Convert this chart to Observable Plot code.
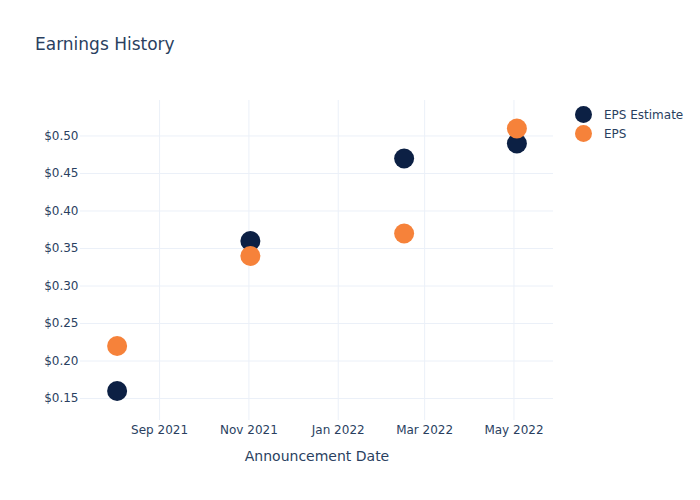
<!DOCTYPE html>
<html><head><meta charset="utf-8">
<script src="https://cdn.jsdelivr.net/npm/d3@7"></script>
<script src="https://cdn.jsdelivr.net/npm/@observablehq/plot@0.6"></script>
<style>
body{margin:0;background:#fff;font-family:"DejaVu Sans",sans-serif;}
#wrap{position:relative;width:700px;height:500px;}
#title{position:absolute;left:35px;top:34px;font-size:17px;color:#2a3f5f;white-space:nowrap;}
.leg{position:absolute;left:575px;font-size:12px;color:#2a3f5f;display:flex;align-items:center;white-space:nowrap;}
.leg span.sw{display:inline-block;width:17px;height:17px;border-radius:50%;margin-right:12px;}
</style></head>
<body>
<div id="wrap">
<div id="chart"></div>
<div id="title">Earnings History</div>
<div id="legend"></div>
</div>
<script>
const dates = ["2021-08-03", "2021-11-02", "2022-02-15", "2022-05-03"];
const epsEstimate = [0.16, 0.36, 0.47, 0.49];
const epsActual = [0.22, 0.34, 0.37, 0.51];
const seriesNames = ["EPS Estimate", "EPS"];
const seriesColors = ["#0c2044", "#f6823a"];
const yTicks = [0.15, 0.20, 0.25, 0.30, 0.35, 0.40, 0.45, 0.50];
const xTicks = ["2021-09-01", "2021-11-01", "2022-01-01", "2022-03-01", "2022-05-01"];
const xDomain = ["2021-07-09", "2022-05-28"];
const yDomain = [0.1207, 0.5473];

const parse = d3.utcParse("%Y-%m-%d");
const data = [];
dates.forEach((d, i) => data.push({date: parse(d), value: epsEstimate[i], series: seriesNames[0]}));
dates.forEach((d, i) => data.push({date: parse(d), value: epsActual[i], series: seriesNames[1]}));

const chart = Plot.plot({
  width: 700, height: 500,
  marginLeft: 80, marginRight: 147, marginTop: 100, marginBottom: 80,
  style: {fontFamily: "DejaVu Sans, sans-serif", fontSize: "12px", color: "#2a3f5f", background: "transparent"},
  x: {type: "utc", domain: xDomain.map(parse)},
  y: {domain: yDomain},
  color: {domain: seriesNames, range: seriesColors},
  marks: [
    Plot.gridX(xTicks.map(parse), {stroke: "#ebf0f8", strokeOpacity: 1, strokeWidth: 1}),
    Plot.gridY(yTicks, {stroke: "#ebf0f8", strokeOpacity: 1, strokeWidth: 1}),
    Plot.axisX(xTicks.map(parse), {tickSize: 0, tickPadding: 5, tickFormat: d3.utcFormat("%b %Y"), label: null, fill: "#2a3f5f"}),
    Plot.axisY(yTicks, {tickSize: 0, tickPadding: 2, tickFormat: d => "$" + d.toFixed(2), label: null, fill: "#2a3f5f"}),
    Plot.text(["Announcement Date"], {frameAnchor: "bottom", dy: 40, fontSize: 14, fill: "#2a3f5f"}),
    Plot.dot(data, {x: "date", y: "value", fill: "series", r: 10})
  ]
});
document.getElementById("chart").appendChild(chart);

const leg = document.getElementById("legend");
seriesNames.forEach((n, i) => {
  const div = document.createElement("div");
  div.className = "leg";
  div.style.top = (106 + i * 19) + "px";
  div.innerHTML = `<span class="sw" style="background:${seriesColors[i]}"></span>${n}`;
  leg.appendChild(div);
});
</script>
</body></html>
